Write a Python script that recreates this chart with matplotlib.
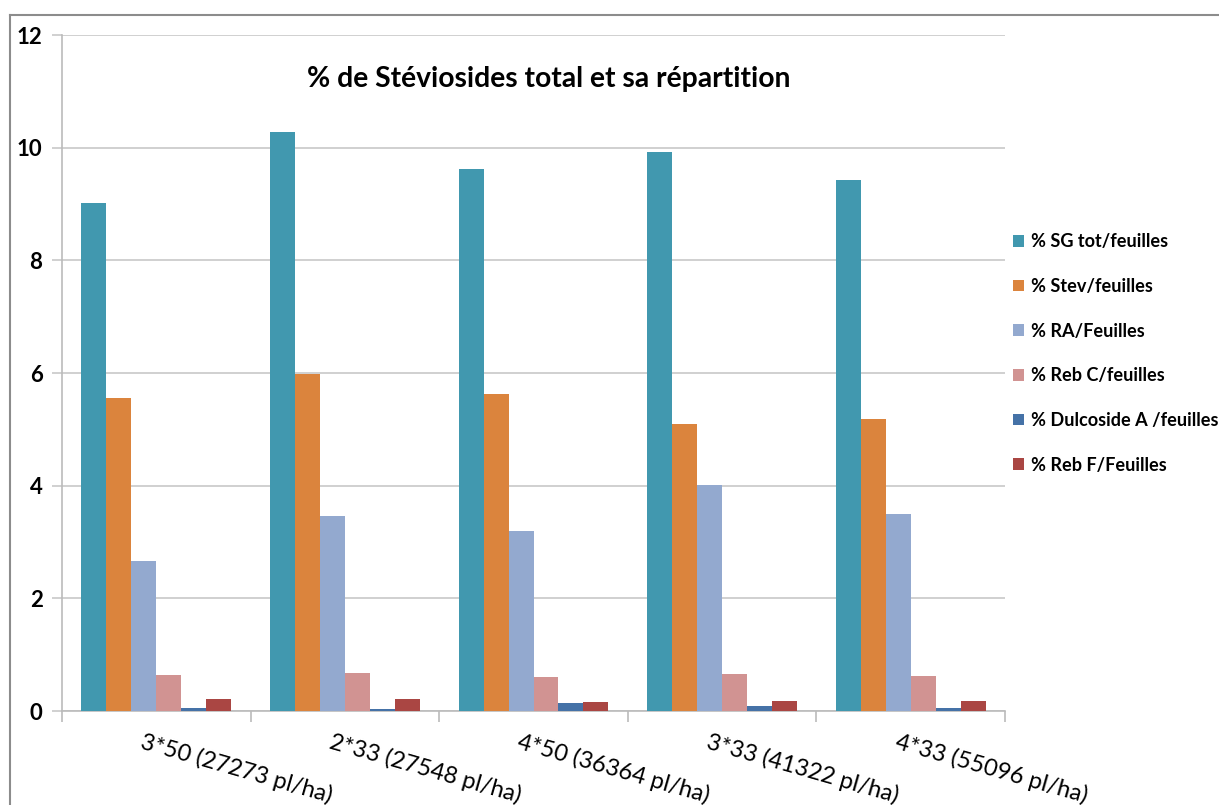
import numpy as np
import matplotlib
matplotlib.use("Agg")
import matplotlib.pyplot as plt
from matplotlib.lines import Line2D
from matplotlib.patches import Patch

categories = ["3*50 (27273 pl/ha)", "2*33 (27548 pl/ha)", "4*50 (36364 pl/ha)",
              "3*33 (41322 pl/ha)", "4*33 (55096 pl/ha)"]
series_names = ["% SG tot/feuilles", "% Stev/feuilles", "% RA/Feuilles",
                "% Reb C/feuilles", "% Dulcoside A /feuilles", "% Reb F/Feuilles"]
sg_tot = [9.02, 10.28, 9.62, 9.92, 9.43]
stev = [5.56, 5.98, 5.63, 5.09, 5.18]
ra = [2.66, 3.46, 3.20, 4.01, 3.50]
reb_c = [0.645, 0.68, 0.60, 0.66, 0.62]
dulcoside_a = [0.05, 0.04, 0.15, 0.09, 0.05]
reb_f = [0.22, 0.22, 0.165, 0.18, 0.18]
colors = ["#4198AF", "#DB843D", "#93A9CF", "#D19392", "#4572A7", "#AA4643"]

values = [sg_tot, stev, ra, reb_c, dulcoside_a, reb_f]

plt.rcParams['font.family'] = ['Lato', 'DejaVu Sans']

fig = plt.figure(figsize=(12.19, 8.05), dpi=100)
ax = fig.add_axes([62 / 1219, 94 / 805, 943 / 1219, 676 / 805])

x = np.arange(len(categories))
n = len(values)
bw = 0.795 / n
for i, (vals, col) in enumerate(zip(values, colors)):
    ax.bar(x - 0.795 / 2 + bw * (i + 0.5), vals, bw, color=col,
           edgecolor='none', zorder=3)

ax.set_xlim(-0.5, len(categories) - 0.5)
ax.set_ylim(0, 12)
ax.set_yticks(range(0, 13, 2))
ax.set_yticklabels([str(v) for v in range(0, 13, 2)], fontsize=16, fontweight='bold')
ax.grid(axis='y', color='#C8C8C8', linewidth=1.2, zorder=0)
ax.tick_params(axis='y', length=7, color='#C8C8C8', width=1.2, pad=7)

ax.set_xticks(np.arange(-0.5, len(categories), 1))
ax.set_xticklabels([])
ax.tick_params(axis='x', length=8, color='#BBBBBB', width=1.2)
for xi, lab in zip(x, categories):
    ax.annotate(lab, xy=(xi, 0), xycoords=('data', 'axes fraction'),
                xytext=(-12, -20), textcoords='offset pixels',
                ha='left', va='top', rotation=-16, rotation_mode='anchor',
                fontsize=17)

for s in ['top', 'right']:
    ax.spines[s].set_visible(False)
for s in ['left', 'bottom']:
    ax.spines[s].set_color('#BBBBBB')
    ax.spines[s].set_linewidth(1.2)

ax.text(0.516, 0.935, "% de Stéviosides total et sa répartition",
        transform=ax.transAxes, ha='center', va='center',
        fontsize=20.3, fontweight='bold')

handles = [Patch(facecolor=c, edgecolor='none') for c in colors]
leg = fig.legend(handles, series_names, loc='upper left',
                 bbox_to_anchor=(1006 / 1219, 1 - 226 / 805),
                 frameon=False, prop={'weight': 'bold', 'size': 13.1},
                 handlelength=0.6, handleheight=0.6, handletextpad=0.35,
                 labelspacing=1.52, borderaxespad=0)

# outer chart frame
fig.add_artist(Line2D([10 / 1219, 1], [1 - 15 / 805, 1 - 15 / 805],
                      color='#8C8C8C', linewidth=1.5, transform=fig.transFigure))
fig.add_artist(Line2D([10 / 1219, 10 / 1219], [0, 1 - 15 / 805],
                      color='#8C8C8C', linewidth=1.5, transform=fig.transFigure))

fig.savefig("out.png", dpi=100)
